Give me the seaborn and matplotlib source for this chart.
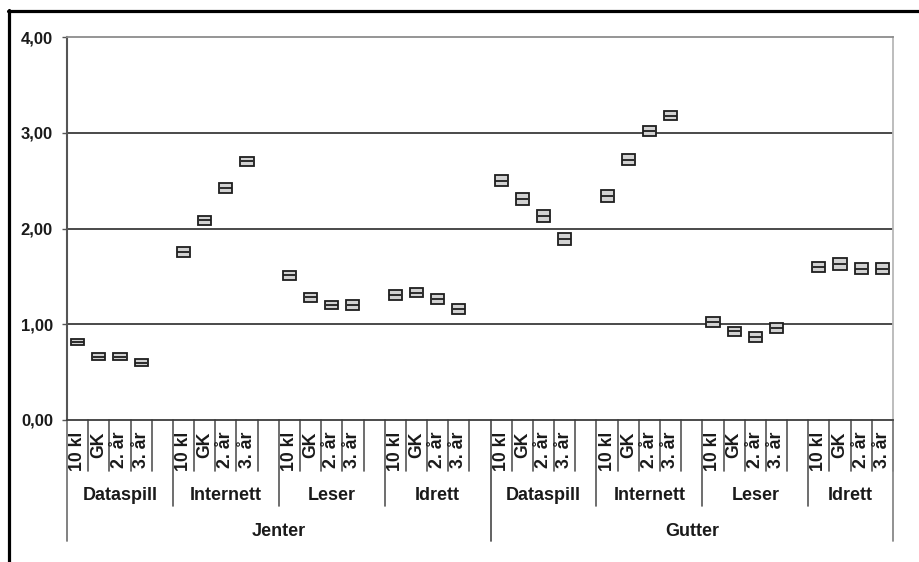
import matplotlib
matplotlib.use('Agg')
import matplotlib.pyplot as plt
from matplotlib.lines import Line2D
from matplotlib.transforms import blended_transform_factory
import seaborn as sns
import pandas as pd

# ---------------- data ----------------
genders = ['Jenter', 'Gutter']
activities = ['Dataspill', 'Internett', 'Leser', 'Idrett']
levels = ['10 kl', 'GK', '2. år', '3. år']

jenter_mean = [0.815, 0.66, 0.66, 0.60,
               1.755, 2.085, 2.42, 2.70,
               1.51, 1.28, 1.20, 1.20,
               1.305, 1.33, 1.265, 1.16]
gutter_mean = [2.50, 2.31, 2.13, 1.89,
               2.34, 2.72, 3.02, 3.18,
               1.02, 0.925, 0.87, 0.96,
               1.595, 1.63, 1.58, 1.58]
jenter_ci = [0.030, 0.036, 0.036, 0.039,
             0.048, 0.048, 0.051, 0.044,
             0.051, 0.050, 0.044, 0.050,
             0.051, 0.050, 0.053, 0.053]
gutter_ci = [0.056, 0.060, 0.062, 0.062,
             0.062, 0.058, 0.053, 0.048,
             0.053, 0.048, 0.053, 0.055,
             0.053, 0.062, 0.060, 0.060]

yticks = [0, 1, 2, 3, 4]
ytick_labels = ['0,00', '1,00', '2,00', '3,00', '4,00']

# ---------------- build table ----------------
rows = []
means = {'Jenter': jenter_mean, 'Gutter': gutter_mean}
cis = {'Jenter': jenter_ci, 'Gutter': gutter_ci}
for g, gname in enumerate(genders):
    for a, aname in enumerate(activities):
        for l, lname in enumerate(levels):
            i = a * len(levels) + l
            rows.append(dict(gender=gname, activity=aname, level=lname,
                             pos=g * 20 + a * 5 + l,
                             mean=means[gname][i], ci=cis[gname][i]))
df = pd.DataFrame(rows)
xmin, xmax = -0.5, 38.5

# ---------------- style ----------------
sns.set_style('white')
plt.rcParams['font.family'] = ['Liberation Sans', 'DejaVu Sans']
plt.rcParams['font.weight'] = 'bold'

fig = plt.figure(figsize=(9.19, 5.62), dpi=100)
ax = fig.add_axes([67 / 919, 1 - 420 / 562, (893 - 67) / 919, (420 - 37) / 562])

# gridlines
for y in [1, 2, 3]:
    ax.axhline(y, color='#3c3c3c', lw=1.3, zorder=1)

# CI boxes
ax.bar(df['pos'], 2 * df['ci'], bottom=df['mean'] - df['ci'], width=0.62,
       color='#d2d2d2', edgecolor='#1e1e1e', linewidth=1.3, zorder=3)
# mean lines
sns.scatterplot(data=df, x='pos', y='mean', marker='_', s=86, color='#1e1e1e',
                linewidth=1.3, ax=ax, zorder=4, legend=False)

ax.set_xlim(xmin, xmax)
ax.set_ylim(0, 4)
ax.set_xticks([])
ax.set_xlabel('')
ax.set_ylabel('')
ax.set_yticks(yticks)
ax.set_yticklabels(ytick_labels, fontsize=12, fontweight='bold', color='#1a1a1a')
ax.tick_params(axis='y', left=True, length=3.6, width=1, color='#555555', pad=6.5)

for side, col, lw in [('left', '#555555', 1.5), ('bottom', '#3c3c3c', 1.3),
                      ('top', '#8c8c8c', 1.3), ('right', '#b8b8b8', 1.3)]:
    ax.spines[side].set_visible(True)
    ax.spines[side].set_color(col)
    ax.spines[side].set_linewidth(lw)

# ---------------- hierarchical category axis ----------------
trans = blended_transform_factory(ax.transData, ax.transAxes)
y1, y2, y3 = -0.133, -0.2245, -0.316
linecol = '#555555'

for _, r in df.iterrows():
    ax.text(r['pos'], -0.031, r['level'], rotation=90, ha='center', va='top',
            transform=trans, fontsize=12.7, fontweight='bold', color='#1a1a1a')
    ax.plot([r['pos'] + 0.5] * 2, [0, y1], transform=trans, color=linecol,
            lw=1.2, clip_on=False)

for g, gname in enumerate(genders):
    gstart = g * 20 - 0.5
    gend = min(gstart + 20, xmax)
    for a, aname in enumerate(activities):
        s = g * 20 + a * 5 - 0.5
        e = min(s + 5, xmax)
        if a > 0:
            ax.plot([s, s], [0, y2], transform=trans, color=linecol, lw=1.2,
                    clip_on=False)
        ax.text((s + e) / 2, -0.198, aname, ha='center', va='center',
                transform=trans, fontsize=13, fontweight='bold', color='#1a1a1a')
    ax.text((gstart + gend) / 2, -0.29, gname, ha='center', va='center',
            transform=trans, fontsize=13, fontweight='bold', color='#1a1a1a')

for xs, col in [(xmin, '#777777'), (19.5, linecol), (xmax, '#888888')]:
    ax.plot([xs, xs], [0, y3], transform=trans, color=col, lw=1.3, clip_on=False)

# black outer frame (top and left)
fig.add_artist(Line2D([8 / 919, 1], [1 - 10.5 / 562] * 2, transform=fig.transFigure,
                      color='black', lw=2.3))
fig.add_artist(Line2D([9 / 919] * 2, [0, 1 - 9.5 / 562], transform=fig.transFigure,
                      color='black', lw=2.3))

fig.savefig('out.png', dpi=100)
